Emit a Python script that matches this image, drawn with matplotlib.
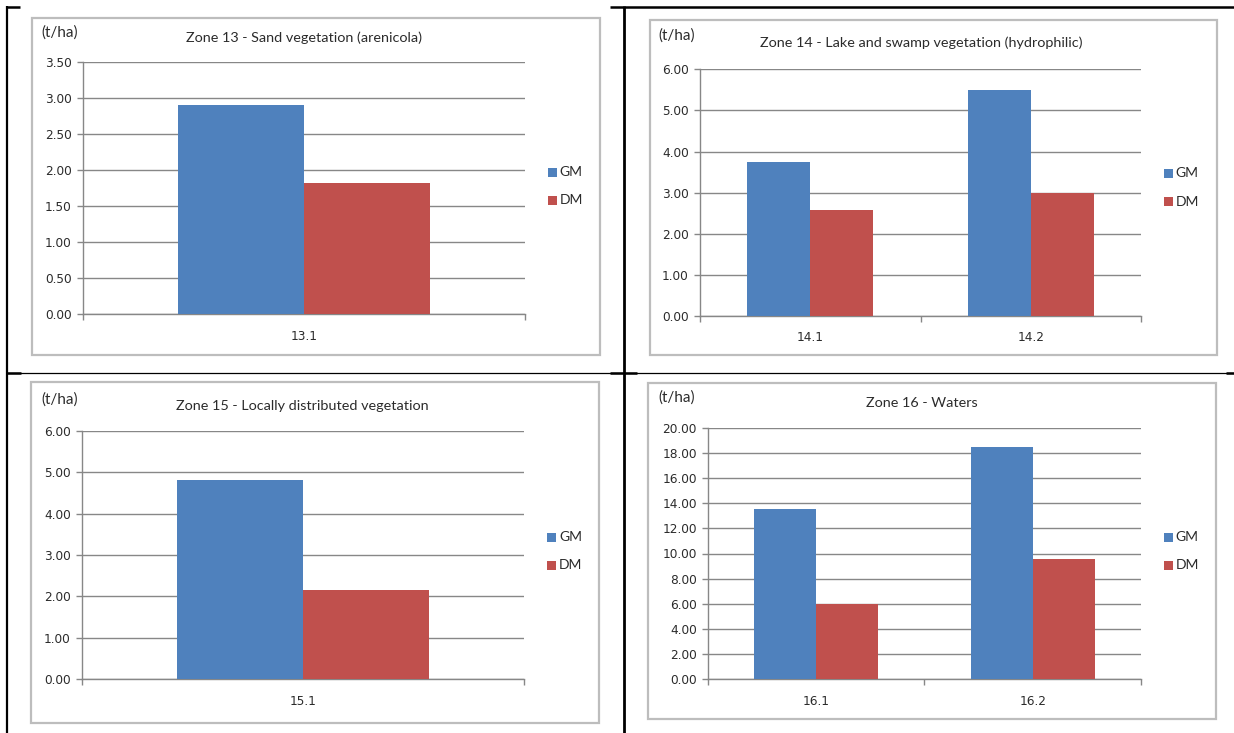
import matplotlib
matplotlib.use("Agg")
import matplotlib.pyplot as plt
from matplotlib.patches import Rectangle
from matplotlib.lines import Line2D
import numpy as np

plt.rcParams['font.family'] = ['Lato', 'DejaVu Sans']

# ---- data ----
series_names = ["GM", "DM"]
series_colors = ["#4F81BD", "#C0504D"]
unit_label = "(t/ha)"

zone13_title = "Zone 13 - Sand vegetation (arenicola)"
zone13_categories = ["13.1"]
zone13_gm = [2.90]
zone13_dm = [1.82]
zone13_ymax, zone13_ystep = 3.5, 0.5

zone14_title = "Zone 14 - Lake and swamp vegetation (hydrophilic)"
zone14_categories = ["14.1", "14.2"]
zone14_gm = [3.75, 5.50]
zone14_dm = [2.58, 3.00]
zone14_ymax, zone14_ystep = 6.0, 1.0

zone15_title = "Zone 15 - Locally distributed vegetation"
zone15_categories = ["15.1"]
zone15_gm = [4.80]
zone15_dm = [2.15]
zone15_ymax, zone15_ystep = 6.0, 1.0

zone16_title = "Zone 16 - Waters"
zone16_categories = ["16.1", "16.2"]
zone16_gm = [13.50, 18.45]
zone16_dm = [6.00, 9.55]
zone16_ymax, zone16_ystep = 20.0, 2.0

# ---- figure ----
W, H = 1234, 733
fig = plt.figure(figsize=(W / 100, H / 100), dpi=100)
fig.patch.set_facecolor("white")

TEXT = "#2b2b2b"
GRID = "#878787"
FRAME = "#BDBDBD"
NUM_FONT = ['DejaVu Sans']
WORD_FONT = ['Lato', 'DejaVu Sans']


def fx(x):
    return x / W


def fy(y):
    return 1 - y / H


def fig_line(x0, y0, x1, y1, lw, color="black"):
    fig.add_artist(Line2D([fx(x0), fx(x1)], [fy(y0), fy(y1)], lw=lw,
                          color=color, transform=fig.transFigure,
                          solid_capstyle="butt"))


def draw_panel(frame, plot, title_xy, unit_xy, legend_x, legend_ys,
               title, cats, gm, dm, ymax, ystep):
    # chart frame
    fx0, fy0, fx1, fy1 = frame
    fig.add_artist(Rectangle((fx(fx0), fy(fy1)), fx(fx1) - fx(fx0),
                             fy(fy0) - fy(fy1), transform=fig.transFigure,
                             fill=False, edgecolor=FRAME, lw=1.6))
    # plot area
    px0, py0, px1, py1 = plot
    ax = fig.add_axes([fx(px0), fy(py1), fx(px1) - fx(px0), fy(py0) - fy(py1)])
    n = len(cats)
    x = np.arange(n)
    bw = 1 / 3.5
    ax.bar(x - bw / 2, gm, width=bw, color=series_colors[0],
           label=series_names[0], zorder=3)
    ax.bar(x + bw / 2, dm, width=bw, color=series_colors[1],
           label=series_names[1], zorder=3)
    ax.set_xlim(-0.5, n - 0.5)
    ax.set_ylim(0, ymax)
    yt = np.arange(0, ymax + ystep / 2, ystep)
    ax.set_yticks(yt)
    ax.set_yticklabels([f"{v:.2f}" for v in yt], family=NUM_FONT)
    ax.yaxis.grid(True, color=GRID, lw=1.0, zorder=0)
    ax.set_axisbelow(True)
    # category boundaries as major ticks, labels on minor ticks
    ax.set_xticks(np.arange(n + 1) - 0.5)
    ax.set_xticklabels([])
    ax.set_xticks(x, minor=True)
    ax.set_xticklabels(cats, minor=True, family=NUM_FONT)
    ax.tick_params(axis="x", which="major", length=4, color=GRID, width=1)
    ax.tick_params(axis="x", which="minor", length=0, pad=11,
                   labelsize=8.7, labelcolor=TEXT)
    ax.tick_params(axis="y", length=4, color=GRID, width=1, pad=4,
                   labelsize=8.7, labelcolor=TEXT)
    for s in ("top", "right"):
        ax.spines[s].set_visible(False)
    for s in ("left", "bottom"):
        ax.spines[s].set_color(GRID)
        ax.spines[s].set_linewidth(1.0)
    ax.set_facecolor("none")

    # title and unit
    fig.text(fx(title_xy[0]), fy(title_xy[1]), title, ha="center",
             va="center", fontsize=10.4, color=TEXT, family=WORD_FONT)
    fig.text(fx(unit_xy[0]), fy(unit_xy[1]), unit_label, ha="left",
             va="center", fontsize=11, color=TEXT, family=WORD_FONT)

    # legend
    for name, color, ly in zip(series_names, series_colors, legend_ys):
        sq = 9
        fig.add_artist(Rectangle((fx(legend_x), fy(ly + sq / 2)),
                                 fx(sq), sq / H, transform=fig.transFigure,
                                 facecolor=color, edgecolor="none"))
        fig.text(fx(legend_x + sq + 3), fy(ly), name, ha="left",
                 va="center", fontsize=10, color=TEXT, family=WORD_FONT)
    return ax


draw_panel((32, 18, 600, 355), (83, 61.7, 525, 314.3), (304, 38), (41.5, 33),
           547.6, (172, 200), zone13_title, zone13_categories,
           zone13_gm, zone13_dm, zone13_ymax, zone13_ystep)
draw_panel((649.5, 20, 1216.5, 355), (700, 69.3, 1141, 316), (921, 42.7),
           (658, 36), 1163.8, (173, 201.7), zone14_title, zone14_categories,
           zone14_gm, zone14_dm, zone14_ymax, zone14_ystep)
draw_panel((31, 382, 599, 723), (82, 430.7, 524, 679.3), (302, 405.7),
           (41.5, 400), 546.9, (537, 565), zone15_title, zone15_categories,
           zone15_gm, zone15_dm, zone15_ymax, zone15_ystep)
draw_panel((647.5, 383, 1216, 719), (708, 427.7, 1141, 679.3), (922, 403.3),
           (658.4, 398), 1163.8, (537, 565), zone16_title, zone16_categories,
           zone16_gm, zone16_dm, zone16_ymax, zone16_ystep)

# ---- surrounding table rules ----
fig_line(6.5, 6, 6.5, 733, 1.6)          # left rule
fig_line(623.5, 6, 623.5, 733, 2.0)      # middle rule
fig_line(7, 6.5, 20, 6.5, 1.8)           # top-left stub
fig_line(610, 6.5, 1234, 6.5, 1.8)       # top rule, right cell
fig_line(7, 372.5, 1234, 372.5, 0.9)     # middle horizontal rule
fig_line(7, 372.5, 21, 372.5, 1.8)
fig_line(610, 372.5, 637, 372.5, 1.8)
fig_line(1226, 372.5, 1234, 372.5, 1.8)

fig.savefig("out.png", dpi=100, facecolor="white")
